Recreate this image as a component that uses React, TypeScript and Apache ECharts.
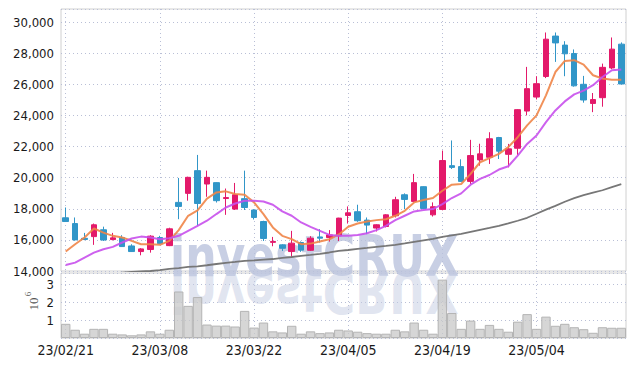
import React, { useEffect, useRef } from "react";
import * as echarts from "echarts";

const dates = [
  "23/02/21", "23/02/22", "23/02/23", "23/02/24", "23/02/27", "23/02/28", "23/03/02", "23/03/03", "23/03/06", "23/03/07",
  "23/03/08", "23/03/09", "23/03/10", "23/03/13", "23/03/14", "23/03/15", "23/03/16", "23/03/17", "23/03/20", "23/03/21",
  "23/03/22", "23/03/23", "23/03/24", "23/03/27", "23/03/28", "23/03/29", "23/03/30", "23/03/31", "23/04/03", "23/04/04",
  "23/04/05", "23/04/06", "23/04/07", "23/04/10", "23/04/11", "23/04/12", "23/04/13", "23/04/14", "23/04/17", "23/04/18",
  "23/04/19", "23/04/20", "23/04/21", "23/04/24", "23/04/25", "23/04/26", "23/04/27", "23/04/28", "23/05/02", "23/05/03",
  "23/05/04", "23/05/08", "23/05/09", "23/05/10", "23/05/11", "23/05/12", "23/05/15", "23/05/16", "23/05/17", "23/05/18",
];

const openPrices = [
  17420, 17050, 16100, 16210, 16650, 16020, 16150, 15610, 15250, 15380,
  16150, 15630, 18410, 18990, 20450, 19590, 19680, 18660, 17980, 18650,
  17920, 17180, 15840, 15680, 15250, 15830, 15330, 16190, 16150, 16260,
  17570, 17810, 17270, 16760, 16860, 17550, 18900, 18470, 19420, 17610,
  17960, 20770, 20710, 19760, 21140, 21310, 22580, 21500, 21890, 24280,
  25180, 26500, 29100, 28520, 27980, 26000, 24770, 25140, 27050, 28580,
];
const closePrices = [
  17180, 16000, 16030, 16970, 15990, 16130, 15570, 15250, 15420, 16240,
  15760, 16710, 18150, 20020, 18340, 20020, 18520, 18720, 18900, 18080,
  17440, 16090, 15900, 15460, 15790, 15340, 16110, 16110, 16320, 17400,
  17740, 17230, 16950, 16970, 17610, 18580, 18600, 19680, 18020, 18130,
  21100, 20660, 19760, 21420, 21530, 22500, 21700, 21850, 24370, 25720,
  26040, 28900, 28660, 27960, 25900, 24990, 25020, 27090, 28260, 26020,
];
const lowPrices = [
  17150, 15950, 15980, 15680, 15930, 15970, 15550, 15240, 15010, 15180,
  15720, 15600, 17330, 18520, 16900, 18770, 18400, 17610, 17920, 17920,
  17310, 15930, 15590, 15290, 14900, 15230, 15290, 15830, 15890, 15930,
  17050, 17160, 16370, 16540, 16800, 17440, 17980, 18420, 18000, 17500,
  17900, 20560, 19720, 19590, 20770, 20880, 21200, 20660, 21460, 24000,
  25030, 26400, 27440, 26520, 25850, 24820, 24210, 24560, 26970, 26000,
];
const highPrices = [
  18080, 17440, 16450, 17050, 16850, 16450, 16300, 15720, 15470, 16300,
  16260, 16780, 19980, 20060, 21460, 20450, 19700, 19300, 19660, 20450,
  17950, 17230, 16190, 15720, 16580, 15900, 16240, 16690, 16630, 17420,
  18150, 18260, 17440, 17000, 17650, 18770, 18990, 20240, 19440, 18410,
  21740, 22390, 21180, 22430, 22180, 22920, 22620, 22170, 24400, 27120,
  26520, 29330, 29330, 28770, 28240, 26540, 25440, 27330, 29010, 28690,
];

const ma5 = [
  15250, 15720, 16150, 16730, 16470, 16260, 16150, 15940, 15720, 15720,
  15680, 15940, 16630, 17550, 17900, 18650, 19050, 19120, 18950, 18900,
  18410, 17660, 16800, 16260, 16050, 15720, 15760, 15890, 16040, 16350,
  16840, 17050, 17180, 17270, 17330, 17550, 17870, 18410, 18560, 18690,
  19160, 19550, 19590, 20240, 20990, 21250, 21530, 21960, 22600, 23360,
  24000, 25290, 26790, 27500, 27550, 27270, 26580, 26370, 26300, 26300,
];
const ma20 = [
  14380, 14540, 14860, 15180, 15400, 15550, 15830, 16090, 16210, 16150,
  16040, 16110, 16260, 16580, 16900, 17230, 17660, 18080, 18340, 18520,
  18520, 18470, 18260, 17830, 17550, 17120, 16840, 16580, 16320, 16260,
  16260, 16320, 16430, 16630, 16900, 17270, 17550, 17830, 17920, 17980,
  18300, 18690, 18990, 19550, 19920, 20170, 20520, 20730, 21420, 22170,
  22710, 23570, 24320, 24900, 25350, 25590, 25940, 26470, 26900, 26950,
];
const ma60 = [
  13600, 13650, 13700, 13740, 13780, 13820, 13900, 13940, 13970, 14000,
  14050, 14130, 14190, 14260, 14300, 14370, 14450, 14520, 14580, 14650,
  14680, 14730, 14770, 14840, 14900, 14970, 15030, 15100, 15190, 15290,
  15350, 15420, 15480, 15550, 15610, 15680, 15770, 15870, 15970, 16060,
  16190, 16290, 16390, 16520, 16650, 16770, 16900, 17060, 17230, 17420,
  17680, 17940, 18190, 18450, 18680, 18870, 19030, 19190, 19390, 19580,
];

const volumes = [
  790000, 460000, 240000, 510000, 510000, 240000, 200000, 150000, 200000, 370000,
  240000, 460000, 2590000, 1790000, 2280000, 750000, 690000, 690000, 640000, 1510000,
  580000, 860000, 370000, 310000, 680000, 240000, 370000, 270000, 310000, 460000,
  420000, 350000, 270000, 240000, 240000, 460000, 370000, 860000, 460000, 240000,
  3250000, 1390000, 510000, 970000, 510000, 730000, 510000, 350000, 910000, 1330000,
  510000, 1190000, 680000, 790000, 600000, 490000, 290000, 600000, 570000, 570000,
];

const priceTicks = { min: 14000, max: 30840, interval: 2000 };
const volumeTicks = { min: 0, max: 3620000, interval: 1000000 };

const UP = "#e3196a";
const DOWN = "#3196c8";
const LABEL_FONT = "'Liberation Sans Narrow', 'DejaVu Sans Condensed', sans-serif";

export default function App() {
  const ref = useRef<HTMLDivElement>(null);

  useEffect(() => {
    if (!ref.current) return;
    const chart = echarts.init(ref.current, undefined, { renderer: "svg" });
    const candleData = openPrices.map((o, i) => [o, closePrices[i], lowPrices[i], highPrices[i]]);
    const dotted = { type: [1, 3] as any, color: "#b9bfd6", width: 1 };
    const labelStyle = { color: "#1a1a1a", fontFamily: LABEL_FONT, fontSize: 14 };
    const yLabelStyle = { color: "#1a1a1a", fontFamily: LABEL_FONT, fontSize: 13 };

    chart.setOption({
      animation: false,
      grid: [
        { left: 61, right: 8, top: 9, height: 262, show: true, borderColor: "#d0d0d0", borderWidth: 1 },
        { left: 61, right: 8, top: 273, height: 65, show: true, borderColor: "#d0d0d0", borderWidth: 1 },
      ],
      graphic: [
        {
          type: "text",
          z: 1,
          x: 170,
          y: 256,
          scaleX: 0.775,
          silent: true,
          style: {
            text: "investCRUX",
            fontFamily: "'DejaVu Sans'",
            fontWeight: "bold",
            fontSize: 57,
            fill: "rgba(184,194,220,0.78)",
            align: "left",
            verticalAlign: "middle",
          },
        },
        {
          type: "text",
          z: 1,
          x: 170,
          y: 292,
          scaleX: 0.775,
          scaleY: -1,
          silent: true,
          style: {
            text: "investCRUX",
            fontFamily: "'DejaVu Sans'",
            fontWeight: "bold",
            fontSize: 57,
            fill: "rgba(195,203,226,0.5)",
            align: "left",
            verticalAlign: "middle",
          },
        },
        {
          type: "text",
          x: 33,
          y: 304,
          rotation: Math.PI / 2,
          style: { text: "10", fontFamily: "'Liberation Serif'", fontSize: 13, fill: "#555", align: "center", verticalAlign: "middle" },
        },
        {
          type: "text",
          x: 28,
          y: 294,
          rotation: Math.PI / 2,
          style: { text: "6", fontFamily: "'Liberation Serif'", fontSize: 9, fill: "#555", align: "center", verticalAlign: "middle" },
        },
      ],
      xAxis: [
        {
          type: "category",
          gridIndex: 0,
          data: dates,
          boundaryGap: true,
          axisLine: { show: false },
          axisTick: { show: false },
          axisLabel: { show: false },
          splitLine: { show: true, interval: 9, alignWithLabel: true, lineStyle: dotted },
        },
        {
          type: "category",
          gridIndex: 1,
          data: dates,
          boundaryGap: true,
          axisLine: { show: false },
          axisTick: { show: false },
          axisLabel: { ...labelStyle, interval: 9, margin: 5 },
          splitLine: { show: true, interval: 9, alignWithLabel: true, lineStyle: dotted },
        },
      ],
      yAxis: [
        {
          type: "value",
          gridIndex: 0,
          min: priceTicks.min,
          max: priceTicks.max,
          interval: priceTicks.interval,
          axisLine: { show: false },
          axisTick: { show: false },
          axisLabel: {
            ...yLabelStyle,
            margin: 7,
            showMaxLabel: false,
            formatter: (v: number) => v.toLocaleString("en-US"),
          },
          splitLine: { show: true, lineStyle: dotted },
        },
        {
          type: "value",
          gridIndex: 1,
          min: volumeTicks.min,
          max: volumeTicks.max,
          interval: volumeTicks.interval,
          axisLine: { show: false },
          axisTick: { show: false },
          axisLabel: {
            ...yLabelStyle,
            margin: 7,
            showMaxLabel: false,
            showMinLabel: false,
            formatter: (v: number) => String(Math.round(v / 1000000)),
          },
          splitLine: { show: true, lineStyle: dotted },
        },
      ],
      series: [
        {
          type: "candlestick",
          xAxisIndex: 0,
          yAxisIndex: 0,
          data: candleData,
          barWidth: 6,
          z: 3,
          itemStyle: { color: UP, color0: DOWN, borderColor: UP, borderColor0: DOWN, borderWidth: 1 },
        },
        {
          type: "line",
          xAxisIndex: 0,
          yAxisIndex: 0,
          data: ma5,
          showSymbol: false,
          z: 4,
          lineStyle: { color: "#ef8548", width: 2, opacity: 0.9 },
        },
        {
          type: "line",
          xAxisIndex: 0,
          yAxisIndex: 0,
          data: ma20,
          showSymbol: false,
          z: 4,
          lineStyle: { color: "#c850ec", width: 2, opacity: 0.9 },
        },
        {
          type: "line",
          xAxisIndex: 0,
          yAxisIndex: 0,
          data: ma60,
          showSymbol: false,
          z: 4,
          clip: true,
          lineStyle: { color: "#777", width: 1.8 },
        },
        {
          type: "bar",
          xAxisIndex: 1,
          yAxisIndex: 1,
          data: volumes,
          barCategoryGap: "0%",
          z: 3,
          itemStyle: { color: "rgba(200,200,200,0.75)", borderColor: "#b4b4b4", borderWidth: 1 },
        },
      ],
    });
    return () => chart.dispose();
  }, []);

  return <div ref={ref} style={{ width: 634, height: 366, position: "absolute", left: 0, top: 0 }} />;
}
